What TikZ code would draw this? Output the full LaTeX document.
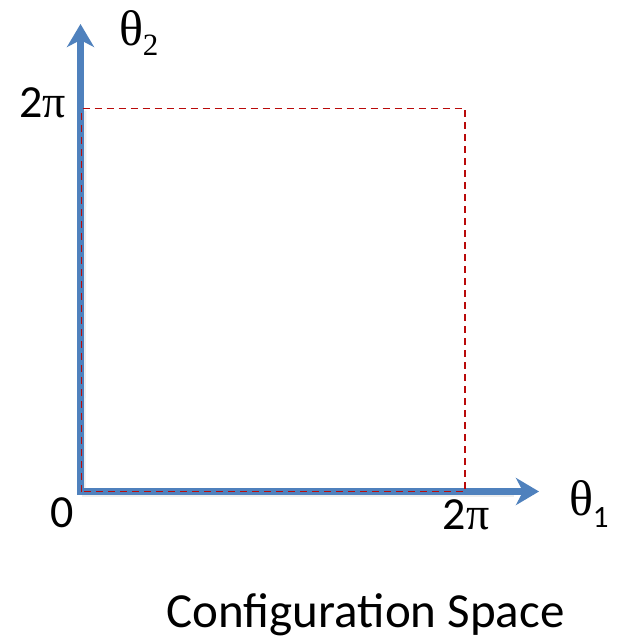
\documentclass[tikz,border=0pt]{standalone}
\usepackage{fontspec}
\setmainfont{Carlito}
\newfontfamily\tms{Liberation Serif}
\usetikzlibrary{arrows.meta}
\definecolor{axisblue}{RGB}{79,129,189}
\definecolor{dashred}{RGB}{185,10,10}
\begin{document}
\begin{tikzpicture}[x=1pt,y=-1pt,
  axis/.style={line width=6.5pt, draw=axisblue, -{Stealth[length=23pt,width=27pt,inset=7pt]}},
  shadowline/.style={line width=7pt, draw=black, opacity=0.07},
  dashbox/.style={draw=dashred, line width=1.7pt, dash pattern=on 7pt off 5pt},
  lbl/.style={inner sep=0pt, outer sep=0pt, font=\fontsize{46}{50}\selectfont},
  thlbl/.style={inner sep=0pt, outer sep=0pt, font=\fontsize{50}{54}\selectfont\tms},
  captext/.style={inner sep=0pt, outer sep=0pt, font=\fontsize{49}{54}\selectfont}
]
\useasboundingbox (0,0) rectangle (616,640);
\coordinate (O) at (80.5,491.5);
\coordinate (Y) at (80.5,24);
\coordinate (X) at (539,491.5);
\coordinate (TL) at (81.5,108.5);
\coordinate (BR) at (465,491.5);
\coordinate (OD) at (81.5,491.5);
% shadows
\draw[shadowline] ([shift={(1.5,2)}]O) -- ([shift={(1.5,2)}]TL);
\draw[shadowline] ([shift={(1.5,2)}]O) -- ([shift={(-25,2)}]X);
% axes
\draw[axis] ([yshift=3.25pt]O) -- (Y);
\draw[axis] ([xshift=-3.25pt]O) -- (X);
% dashed box
\draw[dashbox] (OD) -- (TL) -- (TL -| BR) -- (BR) -- cycle;
% labels
\node[thlbl, anchor=base west] (t2) at (119,45) {θ\raisebox{-10pt}{\fontsize{31}{32}\selectfont 2}};
\node[lbl, anchor=base east] (tp) at (66,117) {2{\tms π}};
\node[lbl, anchor=base east] (z) at (74,527) {0};
\node[lbl, anchor=base] (bp) at (466,529) {2{\tms π}};
\node[thlbl, anchor=base west] (t1) at (569,515) {θ\raisebox{-12pt}{\fontsize{31}{32}\selectfont\rmfamily 1}};
\node[captext, anchor=base] (cs) at (365.5,627) {Configuration Space};
\end{tikzpicture}
\end{document}
